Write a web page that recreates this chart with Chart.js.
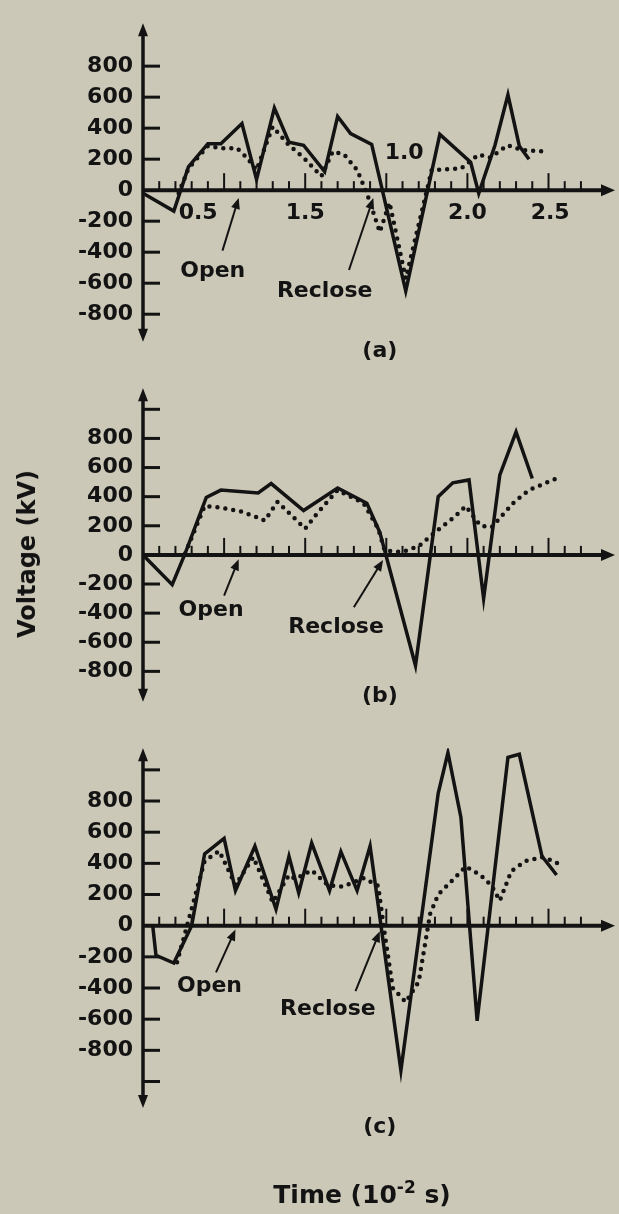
<!DOCTYPE html>
<html>
<head>
<meta charset="utf-8">
<script src="https://cdn.jsdelivr.net/npm/chart.js@4.4.1/dist/chart.umd.min.js"></script>
<style>
  body { margin: 0; background: #ccc8b7; }
  #page { position: relative; width: 619px; height: 1214px; overflow: hidden;
          font-family: 'DejaVu Sans', sans-serif; font-weight: bold; color: #131313; }
  canvas { position: absolute; left: 0; }
  #ylabel { position: absolute; left: 27px; top: 554px; white-space: nowrap; font-size: 24px;
            transform: translate(-50%, -50%) rotate(-90deg); }
  #xlabel { position: absolute; left: 362px; top: 1193px; white-space: nowrap; font-size: 25px;
            transform: translate(-50%, -50%); }
  #xlabel sup { font-size: 17px; }
</style>
</head>
<body>
<div id="page">
  <canvas id="panelA" width="619" height="365" style="top:0px"></canvas>
  <canvas id="panelB" width="619" height="360" style="top:365px"></canvas>
  <canvas id="panelC" width="619" height="489" style="top:725px"></canvas>
  <div id="ylabel">Voltage (kV)</div>
  <div id="xlabel">Time (10<sup>-2</sup> s)</div>
</div>
<script>
// time in 10^-2 s, voltage in kV
// (a)
const tA    = [0, 0.19, 0.28, 0.40, 0.48, 0.61, 0.70, 0.81, 0.90, 0.99, 1.12, 1.20, 1.28, 1.41, 1.62, 1.83, 2.02, 2.07, 2.17, 2.25, 2.32, 2.38];
const vA    = [-20, -135, 150, 300, 300, 430, 70, 530, 310, 290, 120, 475, 365, 295, -650, 360, 180, -20, 290, 615, 285, 200];
const tAdot = [0.22, 0.28, 0.40, 0.49, 0.58, 0.64, 0.70, 0.80, 0.90, 0.99, 1.10, 1.17, 1.24, 1.32, 1.38, 1.46, 1.52, 1.62, 1.78, 1.96, 2.07, 2.14, 2.25, 2.33, 2.46];
const vAdot = [-20, 140, 285, 270, 270, 210, 130, 410, 290, 210, 90, 250, 230, 130, -20, -270, -80, -570, 130, 140, 230, 210, 290, 260, 250];
// (b)
const tB    = [0, 0.18, 0.26, 0.39, 0.48, 0.71, 0.79, 0.99, 1.20, 1.38, 1.46, 1.68, 1.82, 1.91, 2.01, 2.10, 2.20, 2.30, 2.40];
const vB    = [0, -205, 10, 395, 445, 425, 490, 305, 460, 355, 155, -760, 400, 495, 515, -300, 550, 845, 525];
const tBdot = [0.26, 0.38, 0.48, 0.60, 0.70, 0.75, 0.83, 1.00, 1.07, 1.20, 1.36, 1.45, 1.49, 1.60, 1.70, 1.80, 1.92, 1.99, 2.08, 2.15, 2.29, 2.38, 2.58];
const vBdot = [10, 335, 325, 300, 260, 235, 365, 180, 280, 445, 355, 180, 30, 20, 60, 155, 260, 335, 200, 190, 365, 445, 540];
// (c)
const tC    = [0.06, 0.08, 0.19, 0.30, 0.38, 0.50, 0.57, 0.69, 0.82, 0.90, 0.96, 1.04, 1.15, 1.22, 1.32, 1.40, 1.59, 1.82, 1.88, 1.96, 2.06, 2.25, 2.32, 2.46, 2.55];
const vC    = [0, -190, -240, 0, 460, 560, 225, 510, 105, 445, 210, 530, 225, 475, 225, 510, -930, 850, 1110, 695, -610, 1080, 1100, 445, 325];
const tCdot = [0.21, 0.38, 0.47, 0.57, 0.68, 0.80, 0.90, 0.94, 1.04, 1.14, 1.23, 1.36, 1.45, 1.49, 1.54, 1.62, 1.70, 1.77, 1.82, 1.92, 1.99, 2.08, 2.15, 2.20, 2.27, 2.36, 2.46, 2.53, 2.59];
const vCdot = [-235, 415, 480, 260, 440, 150, 325, 300, 355, 260, 250, 305, 255, -50, -400, -490, -360, 75, 200, 305, 380, 325, 255, 160, 350, 415, 440, 415, 380];

// voltage ticks on each axis (only +-800 get a number)
const yTicksA = [-800, -600, -400, -200, 0, 200, 400, 600, 800];
const yTicksB = [-800, -600, -400, -200, 0, 200, 400, 600, 800, 1000];
const yTicksC = [-1000, -800, -600, -400, -200, 0, 200, 400, 600, 800, 1000];

// time labels printed on (a)
const timeLabels   = ['0.5', '1.5', '1.0', '2.0', '2.5'];
const timeLabelAt  = [0.34, 1.0, 1.61, 2.0, 2.51];
const timeLabelAbove = [false, false, true, false, false];

const INK = '#131313';
const FONT = '"DejaVu Sans", sans-serif';

const pts = (t, v) => t.map((x, i) => ({x: x, y: v[i]}));

// extra drawing per panel: arrows, notes, panel tag
const panels = {
  panelA: {
    ticks: yTicksA, min: -978, max: 1077, pad: {top: 10, bottom: 23},
    tag: {text: '(a)', x: 1.46, y: -1040},
    notes: [
      {text: 'Open',    x: 0.43, y: -520, from: [0.49, -390], to: [0.59, -50]},
      {text: 'Reclose', x: 1.12, y: -655, from: [1.27, -515], to: [1.42, -50]}
    ],
    timeAxis: true
  },
  panelB: {
    ticks: yTicksB, min: -1009, max: 1145, pad: {top: 2, bottom: 10},
    tag: {text: '(b)', x: 1.46, y: -970},
    notes: [
      {text: 'Open',    x: 0.42, y: -380, from: [0.50, -280], to: [0.59, -30]},
      {text: 'Reclose', x: 1.19, y: -500, from: [1.30, -360], to: [1.48, -35]}
    ]
  },
  panelC: {
    ticks: yTicksC, min: -1170, max: 1139, pad: {top: 10, bottom: 106},
    tag: {text: '(c)', x: 1.46, y: -1292},
    notes: [
      {text: 'Open',    x: 0.41, y: -390, from: [0.45, -300], to: [0.57, -25]},
      {text: 'Reclose', x: 1.14, y: -535, from: [1.31, -420], to: [1.46, -35]}
    ]
  }
};

function arrowHead(ctx, x, y, ang, len, half) {
  ctx.save();
  ctx.translate(x, y);
  ctx.rotate(ang);
  ctx.beginPath();
  ctx.moveTo(0, 0);
  ctx.lineTo(-len, -half);
  ctx.lineTo(-len, half);
  ctx.closePath();
  ctx.fill();
  ctx.restore();
}

const crossAxes = {
  id: 'crossAxes',
  beforeDatasetsDraw(chart) {
    const cfg = panels[chart.canvas.id];
    const {ctx, chartArea: area} = chart;
    const xs = chart.scales.x, ys = chart.scales.y;
    const x0 = xs.getPixelForValue(0), y0 = ys.getPixelForValue(0);
    ctx.save();
    ctx.strokeStyle = INK;
    ctx.fillStyle = INK;
    ctx.lineCap = 'butt';

    // voltage axis, arrow both ways
    ctx.lineWidth = 3.5;
    ctx.beginPath();
    ctx.moveTo(x0, area.top + 8);
    ctx.lineTo(x0, area.bottom - 8);
    ctx.stroke();
    arrowHead(ctx, x0, area.top, -Math.PI / 2, 13, 5);
    arrowHead(ctx, x0, area.bottom, Math.PI / 2, 13, 5);
    ctx.lineWidth = 3;
    cfg.ticks.forEach(v => {
      if (v === 0) return;
      const py = ys.getPixelForValue(v);
      ctx.beginPath();
      ctx.moveTo(x0, py);
      ctx.lineTo(x0 + 17, py);
      ctx.stroke();
    });

    // time axis along 0 kV
    ctx.lineWidth = 4;
    ctx.beginPath();
    ctx.moveTo(x0, y0);
    ctx.lineTo(area.right - 10, y0);
    ctx.stroke();
    arrowHead(ctx, area.right, y0, 0, 14, 6);
    ctx.lineWidth = 2;
    for (let i = 1; i <= 27; i++) {
      const px = xs.getPixelForValue(i / 10);
      const h = i % 5 === 0 ? 17 : 9;
      ctx.beginPath();
      ctx.moveTo(px, y0);
      ctx.lineTo(px, y0 - h);
      ctx.stroke();
    }
    ctx.restore();
  },
  afterDatasetsDraw(chart) {
    const cfg = panels[chart.canvas.id];
    const ctx = chart.ctx;
    const xs = chart.scales.x, ys = chart.scales.y;
    const px = v => xs.getPixelForValue(v), py = v => ys.getPixelForValue(v);
    ctx.save();
    ctx.fillStyle = INK;
    ctx.strokeStyle = INK;
    ctx.font = 'bold 22px ' + FONT;
    ctx.textAlign = 'center';
    ctx.textBaseline = 'middle';

    if (cfg.timeAxis) {
      timeLabels.forEach((s, i) => {
        ctx.fillText(s, px(timeLabelAt[i]), py(0) + (timeLabelAbove[i] ? -37 : 23));
      });
    }

    cfg.notes.forEach(n => {
      ctx.fillText(n.text, px(n.x), py(n.y));
      const x1 = px(n.from[0]), y1 = py(n.from[1]);
      const x2 = px(n.to[0]), y2 = py(n.to[1]);
      const ang = Math.atan2(y2 - y1, x2 - x1);
      ctx.lineWidth = 2;
      ctx.beginPath();
      ctx.moveTo(x1, y1);
      ctx.lineTo(x2 - Math.cos(ang) * 8, y2 - Math.sin(ang) * 8);
      ctx.stroke();
      arrowHead(ctx, x2, y2, ang, 11, 4.5);
    });

    ctx.fillText(cfg.tag.text, px(cfg.tag.x), py(cfg.tag.y));
    ctx.restore();
  }
};

function makePanel(id, solidT, solidV, dotT, dotV) {
  const cfg = panels[id];
  return new Chart(document.getElementById(id), {
    type: 'line',
    data: {
      datasets: [{
        label: 'solid',
        data: pts(solidT, solidV),
        borderColor: INK,
        borderWidth: 3.5,
        pointRadius: 0,
        tension: 0
      }, {
        label: 'dotted',
        data: pts(dotT, dotV),
        borderColor: INK,
        borderWidth: 4.5,
        borderDash: [0, 8],
        borderCapStyle: 'round',
        pointRadius: 0,
        tension: 0
      }]
    },
    options: {
      responsive: false,
      animation: false,
      events: [],
      layout: {padding: {left: 0, right: 4, top: cfg.pad.top, bottom: cfg.pad.bottom}},
      scales: {
        x: {type: 'linear', min: 0, max: 2.91, display: false},
        y: {
          min: cfg.min,
          max: cfg.max,
          grid: {display: false, drawTicks: false},
          border: {display: false},
          afterBuildTicks: s => { s.ticks = cfg.ticks.map(v => ({value: v})); },
          afterFit: s => { s.width = 143; },
          ticks: {
            padding: 10,
            color: INK,
            font: {family: FONT, size: 22, weight: 'bold'},
            callback: v => (Math.abs(v) <= 800 ? String(v) : '')
          }
        }
      },
      plugins: {legend: {display: false}, tooltip: {enabled: false}}
    },
    plugins: [crossAxes]
  });
}

makePanel('panelA', tA, vA, tAdot, vAdot);
makePanel('panelB', tB, vB, tBdot, vBdot);
makePanel('panelC', tC, vC, tCdot, vCdot);
</script>
</body>
</html>
